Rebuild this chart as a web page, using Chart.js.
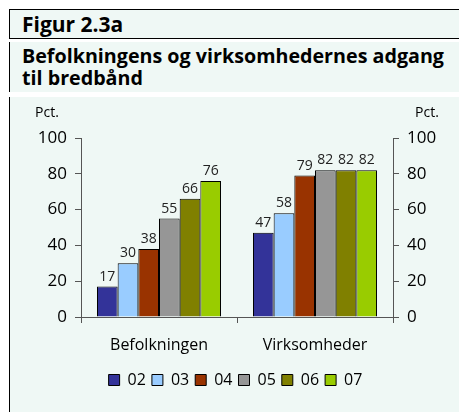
<!DOCTYPE html>
<html>
<head>
<meta charset="utf-8">
<script src="https://cdn.jsdelivr.net/npm/chart.js@4/dist/chart.umd.min.js"></script>
<style>
  html, body { margin: 0; padding: 0; background: #fff; }
  body { width: 459px; height: 412px; position: relative; overflow: hidden; font-family: "Open Sans", sans-serif; }
  .box { position: absolute; left: 9px; right: 0; background: #eff8f5; border-left: 1px solid #000; }
  #head { top: 9px; height: 28px; border-top: 1px solid #000; border-bottom: 1px solid #000; }
  #titlebox { top: 42px; height: 50px; }
  #chartbox { top: 97px; height: 315px; }
  .txt { position: absolute; left: 12px; font-weight: bold; color: #000; white-space: nowrap; }
  #head .txt { top: 1px; font-size: 21px; line-height: 26px; }
  #titlebox .txt { top: 3px; font-size: 19.7px; line-height: 22px; }
  #wrap { position: absolute; left: 1px; top: 0; width: 449px; height: 315px; }
</style>
</head>
<body>
<div class="box" id="head"><div class="txt">Figur 2.3a</div></div>
<div class="box" id="titlebox"><div class="txt">Befolkningens og virksomhedernes adgang<br>til bredbånd</div></div>
<div class="box" id="chartbox"><div id="wrap"><canvas id="chart"></canvas></div></div>
<script>
// categories, years and shares (pct.)
const categories = ["Befolkningen", "Virksomheder"];
const years = ["02", "03", "04", "05", "06", "07"];
const yearColors = ["#333399", "#99ccff", "#993300", "#969696", "#808000", "#99cc00"];
const values02 = [17, 47];
const values03 = [30, 58];
const values04 = [38, 79];
const values05 = [55, 82];
const values06 = [66, 82];
const values07 = [76, 82];
const yTicks = [0, 20, 40, 60, 80, 100];
const unitLabel = "Pct.";

const allValues = [values02, values03, values04, values05, values06, values07];
const FONT = "'Open Sans', sans-serif";

// numbers over each bar + "Pct." above both axes
const barLabels = {
  id: "barLabels",
  afterDatasetsDraw(chart) {
    const ctx = chart.ctx;
    ctx.save();
    ctx.font = "14px " + FONT;
    ctx.fillStyle = "#222";
    ctx.textAlign = "center";
    ctx.textBaseline = "bottom";
    chart.data.datasets.forEach((ds, i) => {
      chart.getDatasetMeta(i).data.forEach((bar, j) => {
        ctx.fillText(ds.data[j], bar.x, bar.y - 3);
      });
    });
    ctx.fillStyle = "#000";
    const top = chart.scales.y.top;
    ctx.fillText(unitLabel, chart.scales.y.right - 34, top - 18);
    ctx.fillText(unitLabel, chart.scales.y2.left + 34, top - 18);
    ctx.restore();
  },
};

function yAxis(pos, w) {
  return {
    position: pos,
    min: 0,
    max: 100,
    afterBuildTicks: (s) => { s.ticks = yTicks.map((v) => ({ value: v })); },
    afterFit: (s) => { s.width = w; },
    ticks: { font: { family: FONT, size: 17 }, color: "#000", padding: 8 },
    grid: { drawOnChartArea: false, tickLength: 6, color: "#555" },
    border: { color: "#555" },
  };
}

new Chart(document.getElementById("chart"), {
  type: "bar",
  data: {
    labels: categories,
    datasets: years.map((y, i) => ({
      label: y,
      data: allValues[i],
      backgroundColor: yearColors[i],
      borderColor: "#000",
      borderWidth: 1,
      barPercentage: 1,
      categoryPercentage: 0.795,
    })),
  },
  options: {
    responsive: true,
    maintainAspectRatio: false,
    animation: false,
    layout: { padding: { top: 41, left: 0, right: 0, bottom: 14 } },
    plugins: {
      legend: {
        position: "bottom",
        labels: {
          boxWidth: 11,
          boxHeight: 11,
          padding: 6,
          color: "#000",
          font: { family: FONT, size: 16 },
        },
      },
      tooltip: { enabled: false },
    },
    scales: {
      x: {
        afterFit: (s) => { s.height = 49; },
        ticks: { font: { family: FONT, size: 16 }, color: "#000", padding: 13 },
        grid: { offset: true, drawOnChartArea: false, tickLength: 6, color: "#555" },
        border: { color: "#555" },
      },
      y: yAxis("left", 70),
      y2: yAxis("right", 67),
    },
  },
  plugins: [barLabels],
});
</script>
</body>
</html>
